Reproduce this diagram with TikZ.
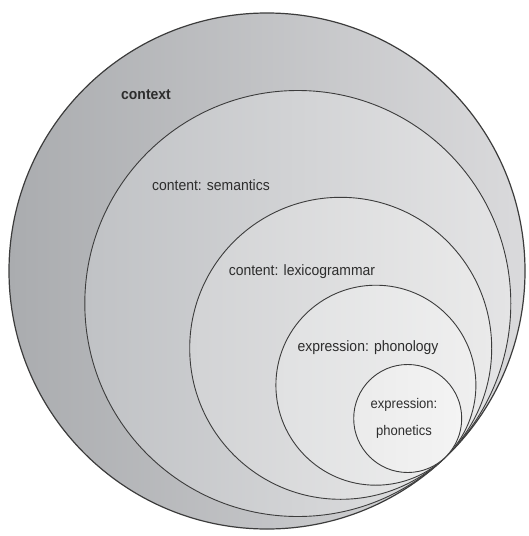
\documentclass[tikz,border=0pt]{standalone}
\usepackage{fontspec}
\setmainfont{Liberation Sans}[FakeStretch=0.93]
\definecolor{c1l}{RGB}{170,172,175}
\definecolor{c1r}{RGB}{218,218,220}
\definecolor{c2l}{RGB}{192,194,197}
\definecolor{c2r}{RGB}{228,228,229}
\definecolor{c3l}{RGB}{210,211,213}
\definecolor{c3r}{RGB}{234,234,234}
\definecolor{c4l}{RGB}{224,225,226}
\definecolor{c4r}{RGB}{239,239,239}
\definecolor{c5l}{RGB}{235,235,235}
\definecolor{c5r}{RGB}{244,244,244}
\definecolor{edge}{RGB}{60,60,60}
\definecolor{ink}{RGB}{45,45,45}
\begin{document}
\begin{tikzpicture}[x=1pt,y=-1pt,
  ring/.style={circle,draw=edge,line width=0.9pt,inner sep=0pt},
  lbl/.style={font=\fontsize{15}{17}\selectfont,text=ink,inner sep=0pt,align=center}]
\useasboundingbox[fill=white] (0,0) rectangle (528,536);
\node[ring,line width=1.2pt,minimum size=516pt,left color=c1l,right color=c1r] (c1) at (267,271) {};
\node[ring,minimum size=426pt,left color=c2l,right color=c2r] (c2) at (297.8,303.5) {};
\node[ring,minimum size=302pt,left color=c3l,right color=c3r] (c3) at (340.7,348.3) {};
\node[ring,minimum size=200pt,left color=c4l,right color=c4r] (c4) at (375.9,385.2) {};
\node[ring,minimum size=108pt,left color=c5l,right color=c5r] (c5) at (407.7,418.5) {};
\node[lbl,font=\fontsize{15}{17}\selectfont\bfseries] (t1) at (146,95) {context};
\node[lbl] (t2) at (211,185) {content: semantics};
\node[lbl] (t3) at (302,272) {content: lexicogrammar};
\node[lbl] (t4) at (368,348) {expression: phonology};
\node[lbl,font=\fontsize{14}{27}\selectfont] (t5) at (404,418) {expression:\\phonetics};
\end{tikzpicture}
\end{document}
